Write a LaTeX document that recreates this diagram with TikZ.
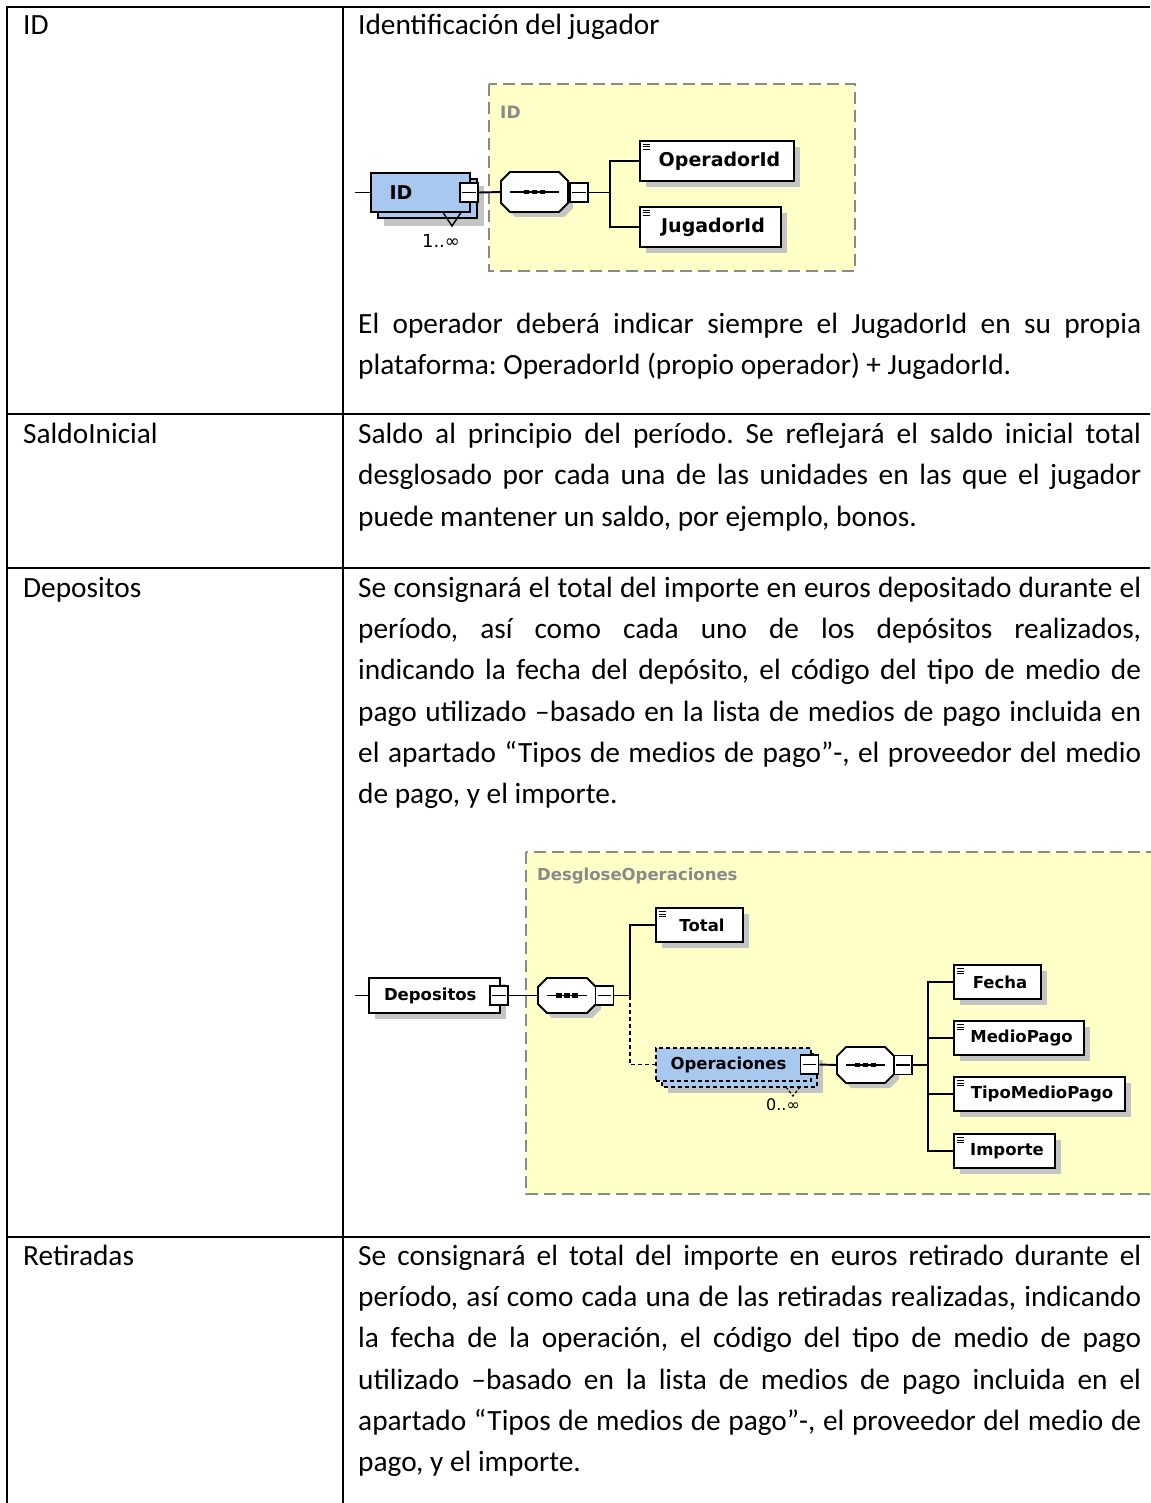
\documentclass[tikz,border=0pt]{standalone}
\usepackage{fontspec}
\setmainfont{Carlito}
\newfontfamily\dg{DejaVu Sans}
\frenchspacing
\definecolor{yel}{HTML}{FFFFC8}
\definecolor{blu}{HTML}{A8C8F0}
\definecolor{shd}{HTML}{C4C4C4}
\definecolor{gry}{HTML}{8A8A8A}
\newcommand\fA{\dg\bfseries\fontsize{19}{19}\selectfont}
\newcommand\fB{\dg\bfseries\fontsize{16.5}{16.5}\selectfont}
% element box with icon
\newcommand\elbox[7]{%
  \fill[shd] (#2+6,#3+6) rectangle (#4+6,#5+6);
  \node[elem, font=#6, minimum width={#4-#2}, minimum height={#5-#3}] (#1) at ({(#2+#4)/2},{(#3+#5)/2}) {\hspace*{5pt}#7};
  \draw[line width=1] (#2+3,#3+3.5) -- ++(7,0) (#2+3,#3+6) -- ++(7,0) (#2+3,#3+8.5) -- ++(7,0);
}
\newcommand\minusb[3]{%
  \node[mbox] (#1) at (#2,#3) {};
  \draw[line width=1.3] ([xshift=3pt]#1.west) -- ([xshift=-3pt]#1.east);
}
\newcommand\octa[5]{(#1+#5,#2) -- (#3-#5,#2) -- (#3,#2+#5) -- (#3,#4-#5) -- (#3-#5,#4) -- (#1+#5,#4) -- (#1,#4-#5) -- (#1,#2+#5) -- cycle}
\newcommand\seqc[5]{%
  \node[inner sep=0, minimum width={#4-#2}, minimum height={#5-#3}] (#1) at ({(#2+#4)/2},{(#3+#5)/2}) {};
  \fill[shd] \octa{#2+5}{#3+5}{#4+5}{#5+5}{9};
  \filldraw[fill=white, line width=1.8] \octa{#2}{#3}{#4}{#5}{9};
  \draw[line width=1.6] ([xshift=9pt]#1.west) -- ([xshift=-9pt]#1.east);
  \foreach \d in {-8,0,8} \fill ([xshift=\d pt]#1.center) +(-2.7,-2.4) rectangle +(2.7,2.4);
}
\newcommand\jl[3]{\node[txt] (#1) at (358,#2) {\makebox[783pt][s]{#3}};}
\newcommand\nl[3]{\node[txt] (#1) at (358,#2) {#3};}
\begin{document}
\begin{tikzpicture}[x=1pt,y=-1pt,
  txt/.style={inner sep=0, anchor=base west, font=\fontsize{29.33}{41.3}\selectfont},
  elem/.style={draw, fill=white, line width=1.8, inner sep=0},
  mbox/.style={draw, fill=white, line width=1.5, minimum width=18, minimum height=19, inner sep=0},
  conn/.style={line width=1.9},
  ybox/.style={fill=yel, draw=gry, line width=1.8, dash pattern=on 12pt off 6pt},
  glab/.style={inner sep=0, anchor=west, text=gry, font=\dg\bfseries\fontsize{17}{17}\selectfont},
  card/.style={inner sep=0, font=\dg\fontsize{16}{16}\selectfont}]
\useasboundingbox (0,0) rectangle (1150,1503);
\fill[white] (0,0) rectangle (1150,1503);

% ---- table rules
\draw[line width=2] (6,7) -- (1150,7);
\draw[line width=2] (7,6) -- (7,1503);
\draw[line width=2] (343,6) -- (343,1503);
\draw[line width=2] (6,414) -- (1150,414);
\draw[line width=2] (6,568) -- (1150,568);
\draw[line width=2] (6,1237) -- (1150,1237);

% ---- left column
\node[txt] (kid) at (23,35) {ID};
\node[txt] (ksal) at (23,443) {SaldoInicial};
\node[txt] (kdep) at (23,597) {Depositos};
\node[txt] (kret) at (23,1265) {Retiradas};

% ---- right column texts
\nl{t1}{35}{Identificación del jugador}
\jl{t2}{333}{El operador deberá indicar siempre el JugadorId en su propia}
\nl{t3}{374}{plataforma: OperadorId (propio operador) + JugadorId.}

\jl{s1a}{443}{Saldo al principio del período. Se reflejará el saldo inicial total}
\jl{s1b}{484}{desglosado por cada una de las unidades en las que el jugador}
\nl{s1c}{526}{puede mantener un saldo, por ejemplo, bonos.}

\jl{d1}{597}{Se consignará el total del importe en euros depositado durante el}
\jl{d2}{638}{período, así como cada uno de los depósitos realizados,}
\jl{d3}{679}{indicando la fecha del depósito, el código del tipo de medio de}
\jl{d4}{721}{pago utilizado –basado en la lista de medios de pago incluida en}
\jl{d5}{762}{el apartado “Tipos de medios de pago”-, el proveedor del medio}
\nl{d6}{803}{de pago, y el importe.}

\jl{r1}{1265}{Se consignará el total del importe en euros retirado durante el}
\jl{r2}{1306}{período, así como cada una de las retiradas realizadas, indicando}
\jl{r3}{1347}{la fecha de la operación, el código del tipo de medio de pago}
\jl{r4}{1389}{utilizado –basado en la lista de medios de pago incluida en el}
\jl{r5}{1430}{apartado “Tipos de medios de pago”-, el proveedor del medio de}
\nl{r6}{1471}{pago, y el importe.}

% ---- diagram 1
\draw[ybox] (489,84) rectangle (855,271);
\node[glab] (lid) at (500,112) {ID};
\fill[shd] (384,186) rectangle (484,226);
\filldraw[fill=blu, line width=1.8] (378,179) rectangle (477,218);
\node[elem, fill=blu, font=\fA, minimum width=99, minimum height=39] (idel) at (420.5,192.5) {\hbox to 80pt{\hspace{9pt}ID\hfil}};
\minusb{m1}{469}{192.5}
\draw[line width=1.4] (443,212.5) -- (452,226) -- (461,212.5);
\node[card, font=\dg\fontsize{18}{18}\selectfont] (c1) at (441,241) {1..∞};
\seqc{q1}{501}{172}{568}{212}
\minusb{m2}{579}{192.5}
\elbox{opid}{640}{141}{794}{181}{\fA}{OperadorId}
\elbox{jgid}{640}{207}{781}{247}{\fA}{JugadorId}
\coordinate (l1) at (355,192.5);
\coordinate (b1) at (610,192.5);
\draw[conn] (l1) -- (idel.west);
\draw[conn] (m1.east) -- (q1.west);
\draw[conn] (m2.east) -- (b1);
\draw[conn] (b1) |- (opid.west);
\draw[conn] (b1) |- (jgid.west);

% ---- diagram 2
\draw[ybox] (526,852) rectangle (1175,1194);
\node[glab, font=\dg\bfseries\fontsize{16.5}{16.5}\selectfont] (ldes) at (537,876) {DesgloseOperaciones};
\fill[shd] (375,984) rectangle (506,1019);
\node[elem, font=\fB, minimum width=131, minimum height=35] (dep) at (434.5,995.5) {\hbox to 110pt{\hspace{4.5pt}Depositos\hfil}};
\minusb{m3}{499}{995.5}
\seqc{q2}{538}{978}{596}{1013}
\minusb{m4}{604.5}{995.5}
\elbox{tot}{656}{908}{743}{942}{\fB}{Total}
\fill[shd] (668,1060) rectangle (823,1093);
\filldraw[fill=blu, line width=1.5, dash pattern=on 4pt off 3pt] (662,1054) rectangle (817,1087);
\node[elem, line width=1.5, fill=blu, dash pattern=on 4pt off 3pt, font=\fB, minimum width=155, minimum height=33] (ope) at (733.5,1064.5) {\hbox to 140pt{\hspace{7pt}Operaciones\hfil}};
\minusb{m5}{809.5}{1064.5}
\draw[line width=1.2, dash pattern=on 3pt off 2pt] (786,1087) -- (793,1096) -- (800,1087);
\node[card] (c2) at (783,1105) {0..∞};
\seqc{q3}{837}{1047}{894}{1083}
\minusb{m6}{903}{1065}
\elbox{fec}{954}{965}{1041}{999}{\fB}{Fecha}
\elbox{med}{954}{1021}{1084}{1055}{\fB}{MedioPago}
\elbox{tip}{954}{1077}{1125}{1111}{\fB}{TipoMedioPago}
\elbox{imp}{954}{1134}{1055}{1168}{\fB}{Importe}
\coordinate (l2) at (355,995.5);
\coordinate (b2) at (630,995.5);
\coordinate (b3) at (928,1065);
\draw[conn] (l2) -- (dep.west);
\draw[conn] (m3.east) -- (q2.west);
\draw[conn] (m4.east) -- (b2) |- (tot.west);
\draw[conn, line width=1.5, dash pattern=on 4pt off 3pt] (b2) |- (ope.west);
\draw[conn] (m5.east) -- (q3.west);
\draw[conn] (m6.east) -- (b3);
\draw[conn] (b3) |- (fec.west);
\draw[conn] (b3) |- (med.west);
\draw[conn] (b3) |- (tip.west);
\draw[conn] (b3) |- (imp.west);
\end{tikzpicture}
\end{document}
